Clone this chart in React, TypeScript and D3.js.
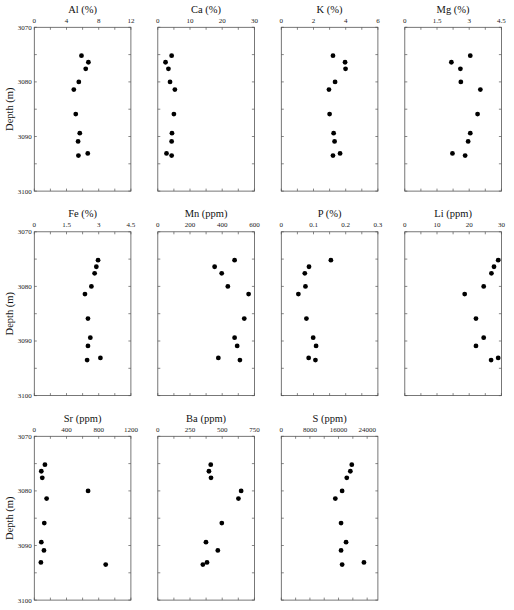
import React from "react";
import * as d3 from "d3";

const depths = [3075.2, 3076.4, 3077.6, 3080.0, 3081.4, 3085.9, 3089.4, 3090.9, 3093.1, 3093.5];

const alValues = [5.86, 6.72, 6.39, 5.53, 4.91, 5.15, 5.65, 5.44, 6.64, 5.48];
const caValues = [4.3, 2.4, 3.3, 3.8, 5.3, 5.0, 4.4, 4.3, 2.7, 4.3];
const kValues = [3.21, 3.96, 3.99, 3.34, 2.96, 3.0, 3.25, 3.31, 3.65, 3.21];
const mgValues = [3.05, 2.17, 2.59, 2.61, 3.52, 3.39, 3.05, 2.95, 2.22, 2.81];
const feValues = [2.97, 2.89, 2.81, 2.66, 2.36, 2.5, 2.61, 2.5, 3.08, 2.46];
const mnValues = [477, 353, 397, 435, 564, 537, 477, 493, 376, 510];
const pValues = [0.154, 0.086, 0.073, 0.075, 0.053, 0.078, 0.099, 0.108, 0.085, 0.106];
const liValues = [29.0, 27.7, 26.9, 24.5, 18.6, 22.1, 24.5, 22.1, 29.0, 26.8];
const srValues = [132, 87, 99, 668, 153, 124, 87, 120, 82, 887];
const baValues = [411, 397, 413, 647, 626, 497, 374, 466, 382, 350];
const sValues = [19700, 19300, 18300, 17000, 15100, 16700, 18100, 16700, 23100, 17000];

const titles = ["Al (%)", "Ca (%)", "K (%)", "Mg (%)", "Fe (%)", "Mn (ppm)", "P (%)", "Li (ppm)", "Sr (ppm)", "Ba (ppm)", "S (ppm)"];
const domainMax = [12, 30, 6, 4.5, 4.5, 600, 0.3, 30, 1200, 750, 27000];
const majorTicks = [
  [0, 4, 8, 12],
  [0, 10, 20, 30],
  [0, 2, 4, 6],
  [0, 1.5, 3, 4.5],
  [0, 1.5, 3, 4.5],
  [0, 200, 400, 600],
  [0, 0.1, 0.2, 0.3],
  [0, 10, 20, 30],
  [0, 400, 800, 1200],
  [0, 250, 500, 750],
  [0, 8000, 16000, 24000],
];
const tickLabels = [
  ["0", "4", "8", "12"],
  ["0", "10", "20", "30"],
  ["0", "2", "4", "6"],
  ["0", "1.5", "3", "4.5"],
  ["0", "1.5", "3", "4.5"],
  ["0", "200", "400", "600"],
  ["0", "0.1", "0.2", "0.3"],
  ["0", "10", "20", "30"],
  ["0", "400", "800", "1200"],
  ["0", "250", "500", "750"],
  ["0", "8000", "16000", "24000"],
];
const minorStep = [2, 5, 1, 0.75, 0.75, 100, 0.05, 5, 200, 125, 4000];
const seriesValues = [alValues, caValues, kValues, mgValues, feValues, mnValues, pValues, liValues, srValues, baValues, sValues];

const depthTicks = [3070, 3075, 3080, 3085, 3090, 3095, 3100];
const depthLabels = [3070, 3080, 3090, 3100];

const FONT = "'Liberation Serif', 'Times New Roman', serif";

export default function App() {
  const colX0 = 34.3;
  const colStep = 123.5;
  const panelW = 96.6;
  const rowY0 = 27.3;
  const rowStep = 204.5;
  const panelH = 163.8;
  const tickLen = 2.5;

  return (
    <svg width={514} height={610} style={{ position: "absolute", left: 0, top: 0, background: "#fff" }}>
      {titles.map((title, i) => {
        const col = i % 4;
        const row = Math.floor(i / 4);
        const x0 = colX0 + col * colStep;
        const y0 = rowY0 + row * rowStep;
        const x = d3.scaleLinear().domain([0, domainMax[i]]).range([x0, x0 + panelW]);
        const y = d3.scaleLinear().domain([3070, 3100]).range([y0, y0 + panelH]);
        const minors = d3.range(0, domainMax[i] + 1e-9, minorStep[i]);
        return (
          <g key={title}>
            <rect x={x0} y={y0} width={panelW} height={panelH} fill="none" stroke="#555" strokeWidth={0.8} />
            {minors.map((v) => (
              <g key={"xt" + v}>
                <line x1={x(v)} x2={x(v)} y1={y0} y2={y0 + tickLen} stroke="#555" strokeWidth={0.7} />
                <line x1={x(v)} x2={x(v)} y1={y0 + panelH} y2={y0 + panelH - tickLen} stroke="#555" strokeWidth={0.7} />
              </g>
            ))}
            {depthTicks.map((d) => (
              <g key={"yt" + d}>
                <line x1={x0} x2={x0 + tickLen} y1={y(d)} y2={y(d)} stroke="#555" strokeWidth={0.7} />
                <line x1={x0 + panelW} x2={x0 + panelW - tickLen} y1={y(d)} y2={y(d)} stroke="#555" strokeWidth={0.7} />
              </g>
            ))}
            {majorTicks[i].map((v, k) => (
              <text key={"xl" + v} x={x(v)} y={y0 - 4.5} fontSize={7} fontFamily={FONT} textAnchor="middle" fill="#222">
                {tickLabels[i][k]}
              </text>
            ))}
            <text x={x0 + panelW / 2} y={y0 - 14.5} fontSize={10.5} fontFamily={FONT} textAnchor="middle" fill="#111">
              {title}
            </text>
            {col === 0 &&
              depthLabels.map((d) => (
                <text key={"yl" + d} x={x0 - 2.5} y={y(d) + 2.4} fontSize={7} fontFamily={FONT} textAnchor="end" fill="#222">
                  {d}
                </text>
              ))}
            {col === 0 && (
              <text
                transform={`translate(12.5, ${y0 + panelH / 2}) rotate(-90)`}
                fontSize={10.5}
                fontFamily={FONT}
                textAnchor="middle"
                fill="#111"
              >
                Depth (m)
              </text>
            )}
            {seriesValues[i].map((v, k) => (
              <circle key={"p" + k} cx={x(v)} cy={y(depths[k])} r={2.4} fill="#000" />
            ))}
          </g>
        );
      })}
    </svg>
  );
}
